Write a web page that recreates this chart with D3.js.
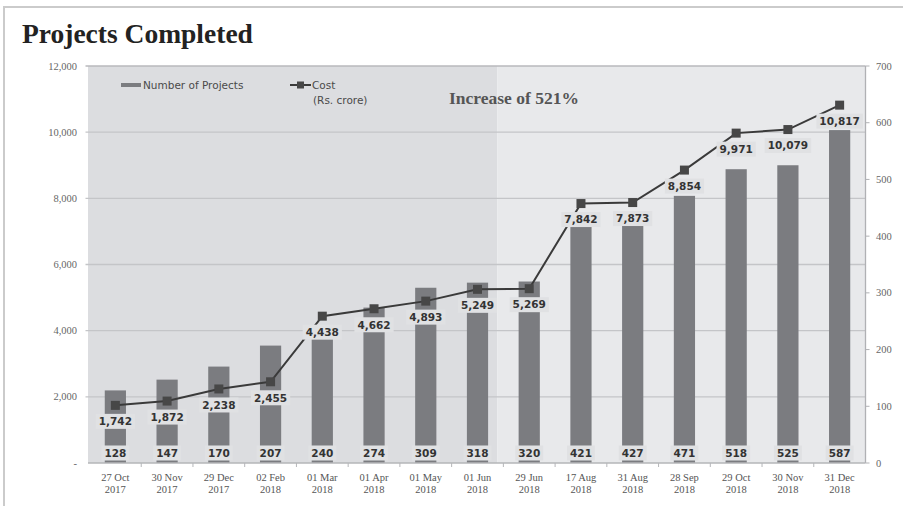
<!DOCTYPE html>
<html>
<head>
<meta charset="utf-8">
<script src="https://cdn.jsdelivr.net/npm/d3@7"></script>
<style>
  body { margin: 0; background: #fff; }
  svg { display: block; }
</style>
</head>
<body>
<div id="chart"></div>
<script>
// data
const categories = ["27 Oct|2017", "30 Nov|2017", "29 Dec|2017", "02 Feb|2018", "01 Mar|2018",
                    "01 Apr|2018", "01 May|2018", "01 Jun|2018", "29 Jun|2018", "17 Aug|2018",
                    "31 Aug|2018", "28 Sep|2018", "29 Oct|2018", "30 Nov|2018", "31 Dec|2018"];
const projects = [128, 147, 170, 207, 240, 274, 309, 318, 320, 421, 427, 471, 518, 525, 587];
const cost = [1742, 1872, 2238, 2455, 4438, 4662, 4893, 5249, 5269, 7842, 7873, 8854, 9971, 10079, 10817];
const leftTicks = [0, 2000, 4000, 6000, 8000, 10000, 12000];
const rightTicks = [0, 100, 200, 300, 400, 500, 600, 700];

const W = 903, H = 506;
const plot = {left: 89.5, right: 865.5, top: 66, bottom: 463};

const colors = {
    darkBg: '#dcdde0',
    lightBg: '#e8e9eb',
    bar: '#7b7c80',
    line: '#3a3a3a',
    marker: '#474747',
    grid: '#c4c5c8',
    labelBox: '#e0e1e3',
    axisText: '#666'
}

const svg = d3.select("#chart")
    .append("svg")
        .attr("width", W)
        .attr("height", H);

// outer frame
svg.append("path")
    .attr("d", `M4,${H} L4,7 L${W},7`)
    .attr("fill", "none")
    .attr("stroke", "#cbcbcb")
    .attr("stroke-width", 2);

// title
svg.append("text")
    .attr("x", 22)
    .attr("y", 43)
    .attr("font-family", "Liberation Serif")
    .attr("font-weight", "bold")
    .attr("font-size", 27.5)
    .attr("fill", "#222")
    .text("Projects Completed");

// scales
const x = d3.scaleBand()
    .domain(categories)
    .range([plot.left, plot.right]);

const yLeft = d3.scaleLinear()
    .domain([0, 12000])
    .range([plot.bottom, plot.top]);

const yRight = d3.scaleLinear()
    .domain([0, 700])
    .range([plot.bottom, plot.top]);

const barW = x.bandwidth() * 0.41;
const cx = d => x(d) + x.bandwidth() / 2;

// two background shades, split just before 29 Jun
const split = x(categories[7]) + x.bandwidth() * 0.88;
svg.append("rect")
    .attr("x", plot.left - 1.5)
    .attr("y", plot.top)
    .attr("width", split - plot.left + 1.5)
    .attr("height", plot.bottom - plot.top)
    .attr("fill", colors.darkBg);
svg.append("rect")
    .attr("x", split)
    .attr("y", plot.top)
    .attr("width", plot.right - split)
    .attr("height", plot.bottom - plot.top)
    .attr("fill", colors.lightBg);

// gridlines on the left axis
svg.append("g")
    .selectAll("line")
    .data(leftTicks.slice(1))
    .join("line")
        .attr("x1", plot.left - 4)
        .attr("x2", plot.right)
        .attr("y1", d => yLeft(d))
        .attr("y2", d => yLeft(d))
        .attr("stroke", d => d === 12000 ? "#b8b9bc" : colors.grid)
        .attr("stroke-width", 1.3);

// left axis labels
svg.append("g")
    .selectAll("text")
    .data(leftTicks)
    .join("text")
        .attr("x", 77)
        .attr("y", d => yLeft(d) + 3.5)
        .attr("text-anchor", "end")
        .attr("font-family", "Liberation Serif")
        .attr("font-size", 10.5)
        .attr("fill", colors.axisText)
        .text(d => d === 0 ? "-" : d3.format(",")(d));

// right axis line + ticks + labels
svg.append("line")
    .attr("x1", plot.right).attr("x2", plot.right)
    .attr("y1", plot.top).attr("y2", plot.bottom)
    .attr("stroke", "#b0b1b4")
    .attr("stroke-width", 1.3);

const rAxis = svg.append("g");
rAxis.selectAll("line")
    .data(rightTicks)
    .join("line")
        .attr("x1", plot.right)
        .attr("x2", plot.right + 4)
        .attr("y1", d => yRight(d))
        .attr("y2", d => yRight(d))
        .attr("stroke", "#b0b1b4");
rAxis.selectAll("text")
    .data(rightTicks)
    .join("text")
        .attr("x", 876)
        .attr("y", d => yRight(d) + 3.5)
        .attr("font-family", "Liberation Serif")
        .attr("font-size", 10.5)
        .attr("fill", colors.axisText)
        .text(d => d);

// bars (number of projects, right axis)
svg.append("g")
    .selectAll("rect")
    .data(projects)
    .join("rect")
        .attr("x", (d, i) => cx(categories[i]) - barW / 2)
        .attr("y", d => yRight(d))
        .attr("width", barW)
        .attr("height", d => plot.bottom - yRight(d))
        .attr("fill", colors.bar);

// x axis line and ticks
svg.append("line")
    .attr("x1", plot.left - 1.5).attr("x2", plot.right)
    .attr("y1", plot.bottom).attr("y2", plot.bottom)
    .attr("stroke", "#b5b6b9")
    .attr("stroke-width", 1.3);

svg.append("g")
    .selectAll("line")
    .data(categories.slice(1))
    .join("line")
        .attr("x1", d => x(d))
        .attr("x2", d => x(d))
        .attr("y1", plot.bottom)
        .attr("y2", plot.bottom + 4)
        .attr("stroke", "#b5b6b9");

const xLab = svg.append("g")
    .selectAll("text")
    .data(categories)
    .join("text")
        .attr("x", d => cx(d))
        .attr("text-anchor", "middle")
        .attr("font-family", "Liberation Serif")
        .attr("font-size", 10.5)
        .attr("fill", "#555");
xLab.append("tspan")
    .attr("x", d => cx(d))
    .attr("y", 480.5)
    .text(d => d.split("|")[0]);
xLab.append("tspan")
    .attr("x", d => cx(d))
    .attr("y", 493)
    .text(d => d.split("|")[1]);

// cost line (left axis)
const line = d3.line()
    .x((d, i) => cx(categories[i]))
    .y(d => yLeft(d));

svg.append("path")
    .datum(cost)
    .attr("d", line)
    .attr("fill", "none")
    .attr("stroke", colors.line)
    .attr("stroke-width", 2);

const mk = 9;
svg.append("g")
    .selectAll("rect")
    .data(cost)
    .join("rect")
        .attr("x", (d, i) => cx(categories[i]) - mk / 2)
        .attr("y", d => yLeft(d) - mk / 2)
        .attr("width", mk)
        .attr("height", mk)
        .attr("fill", colors.marker);

// labels with a box behind them
function boxedLabels(values, xf, yf, fmt) {
    const g = svg.append("g");
    const groups = g.selectAll("g")
        .data(values)
        .join("g")
            .attr("transform", (d, i) => `translate(${xf(d, i)},${yf(d, i)})`);
    groups.append("text")
        .attr("text-anchor", "middle")
        .attr("dy", "0.36em")
        .attr("font-family", "DejaVu Sans")
        .attr("font-weight", "bold")
        .attr("font-size", 10.5)
        .attr("fill", "#333")
        .text(fmt);
    groups.each(function() {
        const grp = d3.select(this);
        const bb = grp.select("text").node().getBBox();
        grp.insert("rect", "text")
            .attr("x", bb.x - 3)
            .attr("y", -7.5)
            .attr("width", bb.width + 6)
            .attr("height", 15)
            .attr("fill", colors.labelBox);
    });
}

boxedLabels(cost,
    (d, i) => cx(categories[i]),
    d => yLeft(d) + 16,
    d => d3.format(",")(d));

boxedLabels(projects,
    (d, i) => cx(categories[i]),
    () => plot.bottom - 10,
    d => d);

// legend
const leg = svg.append("g")
    .attr("font-family", "DejaVu Sans")
    .attr("font-size", 10.5)
    .attr("fill", "#4a4a4a");
leg.append("rect")
    .attr("x", 121).attr("y", 83)
    .attr("width", 20).attr("height", 4)
    .attr("fill", colors.bar);
leg.append("text")
    .attr("x", 143).attr("y", 89)
    .text("Number of Projects");
leg.append("line")
    .attr("x1", 290).attr("x2", 311)
    .attr("y1", 85).attr("y2", 85)
    .attr("stroke", colors.line)
    .attr("stroke-width", 2);
leg.append("rect")
    .attr("x", 297).attr("y", 81.5)
    .attr("width", 7).attr("height", 7)
    .attr("fill", colors.marker);
leg.append("text")
    .attr("x", 312).attr("y", 89)
    .text("Cost");
leg.append("text")
    .attr("x", 313).attr("y", 104)
    .text("(Rs. crore)");

// annotation
svg.append("text")
    .attr("x", 449)
    .attr("y", 103.5)
    .attr("font-family", "Liberation Serif")
    .attr("font-weight", "bold")
    .attr("font-size", 17.5)
    .attr("fill", "#555")
    .text("Increase of 521%");
</script>
</body>
</html>
